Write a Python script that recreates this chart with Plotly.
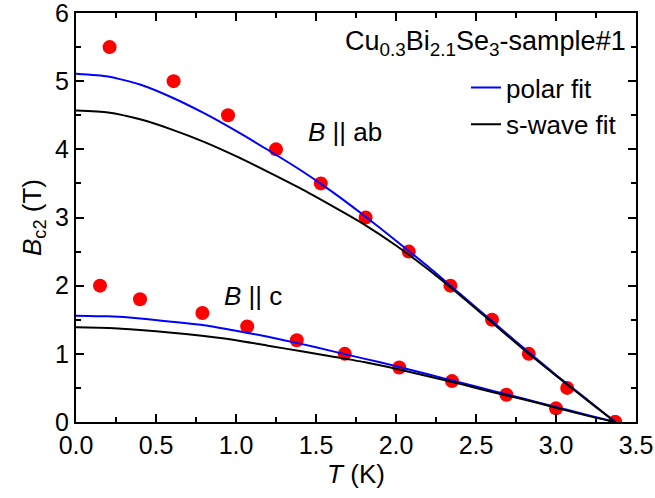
import plotly.graph_objects as go

# Measured data (red dots)
T_ab = [0.21, 0.61, 0.95, 1.25, 1.53, 1.81, 2.08, 2.34, 2.60, 2.83, 3.07, 3.37]
B_ab = [5.5, 5.0, 4.5, 4.0, 3.5, 3.0, 2.5, 2.0, 1.5, 1.0, 0.5, 0.0]
T_c = [0.15, 0.40, 0.79, 1.07, 1.38, 1.68, 2.02, 2.35, 2.69, 3.00, 3.37]
B_c = [2.0, 1.8, 1.6, 1.4, 1.2, 1.0, 0.8, 0.6, 0.4, 0.2, 0.0]

# Fit curves
T_fit = [0, 0.2, 0.4, 0.6, 0.8, 1.0, 1.2, 1.4, 1.6, 1.8, 2.0, 2.2, 2.4, 2.6, 2.8, 3.0, 3.2, 3.37]
polar_ab = [5.11, 5.07, 4.95, 4.76, 4.53, 4.27, 3.99, 3.70, 3.38, 3.03, 2.66, 2.28, 1.88, 1.48, 1.08, 0.69, 0.32, 0.0]
swave_ab = [4.57, 4.54, 4.44, 4.29, 4.11, 3.90, 3.67, 3.43, 3.17, 2.90, 2.59, 2.24, 1.86, 1.46, 1.06, 0.68, 0.31, 0.0]
polar_c = [1.56, 1.55, 1.52, 1.47, 1.42, 1.34, 1.25, 1.15, 1.04, 0.93, 0.82, 0.70, 0.58, 0.46, 0.34, 0.22, 0.10, 0.0]
swave_c = [1.39, 1.38, 1.35, 1.31, 1.26, 1.20, 1.12, 1.04, 0.96, 0.88, 0.78, 0.67, 0.56, 0.44, 0.33, 0.21, 0.09, 0.0]

FONT = "Liberation Sans, Arial, sans-serif"
RED = "#ff0000"
BLUE = "#0000ff"
BLACK = "#000000"

fig = go.Figure()
fig.add_trace(go.Scatter(x=T_ab, y=B_ab, mode="markers", marker=dict(color=RED, size=14), showlegend=False))
fig.add_trace(go.Scatter(x=T_c, y=B_c, mode="markers", marker=dict(color=RED, size=14), showlegend=False))
fig.add_trace(go.Scatter(x=T_fit, y=polar_ab, mode="lines", line=dict(color=BLUE, width=2, shape="spline", smoothing=0.6), name="polar fit"))
fig.add_trace(go.Scatter(x=T_fit, y=swave_ab, mode="lines", line=dict(color=BLACK, width=2, shape="spline", smoothing=0.6), name="s-wave fit"))
fig.add_trace(go.Scatter(x=T_fit, y=polar_c, mode="lines", line=dict(color=BLUE, width=2, shape="spline", smoothing=0.6), showlegend=False))
fig.add_trace(go.Scatter(x=T_fit, y=swave_c, mode="lines", line=dict(color=BLACK, width=2, shape="spline", smoothing=0.6), showlegend=False))

axis_common = dict(
    showline=True, linecolor="black", linewidth=2, mirror="ticks",
    ticks="inside", ticklen=8, tickwidth=2, tickcolor="black",
    showgrid=False, zeroline=False, ticklabeloverflow="allow",
    tickfont=dict(family=FONT, size=25, color="black"),
)
fig.update_xaxes(range=[0, 3.5], dtick=0.5, tickformat=".1f",
                 minor=dict(ticks="inside", ticklen=5, tickwidth=2, tickcolor="black", dtick=0.25),
                 title=dict(text="<i>T</i> (K)", font=dict(family=FONT, size=26, color="black"), standoff=4),
                 **axis_common)
fig.update_yaxes(range=[0, 6], dtick=1,
                 minor=dict(ticks="inside", ticklen=5, tickwidth=2, tickcolor="black", dtick=0.5),
                 title=dict(text="<i>B</i><sub>c2</sub> (T)", font=dict(family=FONT, size=26, color="black"), standoff=6),
                 **axis_common)

fig.add_annotation(x=0.985, y=0.927, xref="paper", yref="paper", xanchor="right", yanchor="middle",
                   text="Cu<sub>0.3</sub>Bi<sub>2.1</sub>Se<sub>3</sub>-sample#1", showarrow=False,
                   font=dict(family=FONT, size=27, color="black"))
fig.add_annotation(x=1.44, y=4.25, xref="x", yref="y", xanchor="left", yanchor="middle",
                   text="<i>B</i> || ab", showarrow=False, font=dict(family=FONT, size=26, color="black"))
fig.add_annotation(x=0.91, y=1.85, xref="x", yref="y", xanchor="left", yanchor="middle",
                   text="<i>B</i> || c", showarrow=False, font=dict(family=FONT, size=26, color="black"))

fig.update_layout(
    width=655, height=498,
    margin=dict(l=76, r=19, t=13, b=76, autoexpand=False),
    paper_bgcolor="white", plot_bgcolor="white",
    font=dict(family=FONT, size=26, color="black"),
    legend=dict(x=0.975, y=0.875, xanchor="right", yanchor="top", bgcolor="rgba(0,0,0,0)",
                font=dict(family=FONT, size=26, color="black"), tracegroupgap=0, itemwidth=30),
)

fig.write_html("out.html")
